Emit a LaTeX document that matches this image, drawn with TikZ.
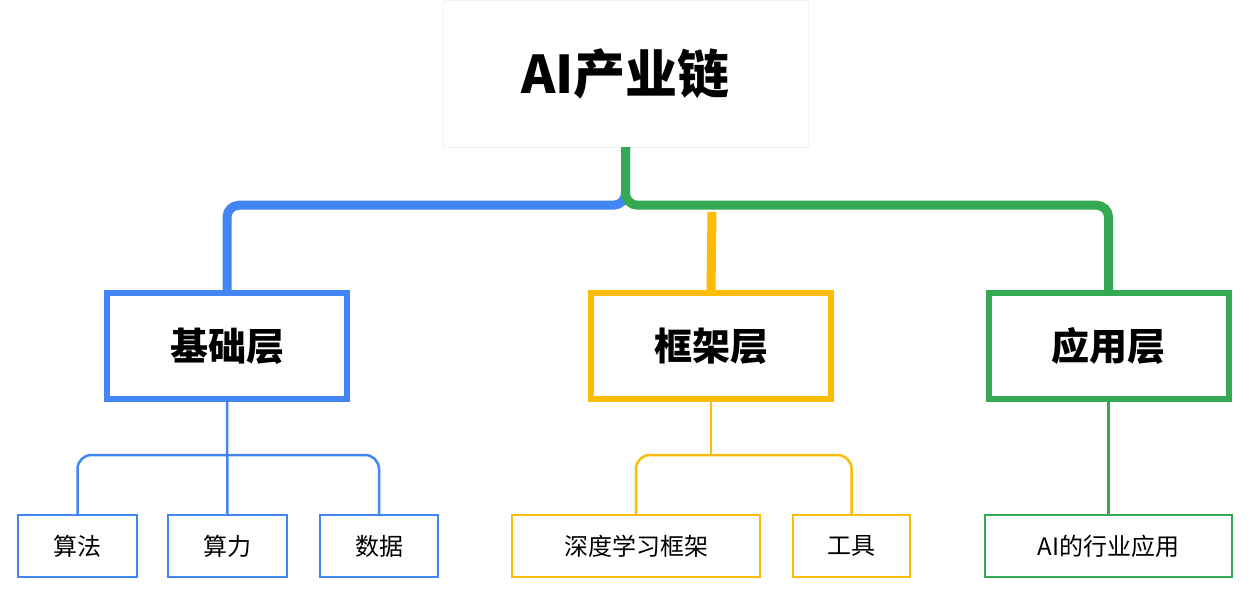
\documentclass[tikz,border=0pt]{standalone}
\usepackage{fontspec}
\setmainfont{Noto Sans CJK SC}
\definecolor{cb}{HTML}{4285F4}
\definecolor{cy}{HTML}{FBBC04}
\definecolor{cg}{HTML}{34A853}
\begin{document}
\begin{tikzpicture}[x=1pt,y=-1pt,
 l1/.style={draw=#1,line width=6pt,minimum width=240pt,minimum height=106pt,font=\bfseries\fontsize{38}{40}\selectfont},
 l2/.style={draw=#1,line width=2pt,minimum height=62pt,font=\fontsize{24}{26}\selectfont,inner sep=0pt},
 main/.style={line width=9pt,rounded corners=12pt},
 sub/.style={line width=2.5pt,rounded corners=14pt}]
\useasboundingbox (0,0) rectangle (1253,593);
\node[draw=black!5,fill=white,minimum width=365pt,minimum height=147pt,font=\bfseries\fontsize{52}{56}\selectfont] (root) at (625.5,73.5) {AI产业链};
\node[l1=cb] (a) at (227,346) {基础层};
\node[l1=cy] (b) at (711,346) {框架层};
\node[l1=cg] (c) at (1108.5,346) {应用层};
\draw[main,cb] (root.south) -- ++(0,58) -| (a.north);
\draw[main,cy] (712,212) -- (b.north);
\draw[main,cg] (root.south) -- ++(0,58) -| (c.north);
\node[l2=cb,minimum width=119pt] (a1) at (77.5,546) {算法};
\node[l2=cb,minimum width=119pt] (a2) at (227.5,546) {算力};
\node[l2=cb,minimum width=118pt] (a3) at (379,546) {数据};
\node[l2=cy,minimum width=248pt] (b1) at (636,546) {深度学习框架};
\node[l2=cy,minimum width=117pt] (b2) at (851.5,546) {工具};
\node[l2=cg,minimum width=247pt] (c1) at (1108.5,546) {AI的行业应用};
\coordinate (ja) at (227,455);
\coordinate (jb) at (711,455);
\draw[sub,cb] (a.south) -- (a2.north);
\draw[sub,cb] (a1.north) |- (ja) -| (a3.north);
\draw[sub,cy] (b.south) -- (jb);
\draw[sub,cy] (b1.north) |- (jb) -| (b2.north);
\draw[sub,cg] (c.south) -- (c1.north);
\end{tikzpicture}
\end{document}
